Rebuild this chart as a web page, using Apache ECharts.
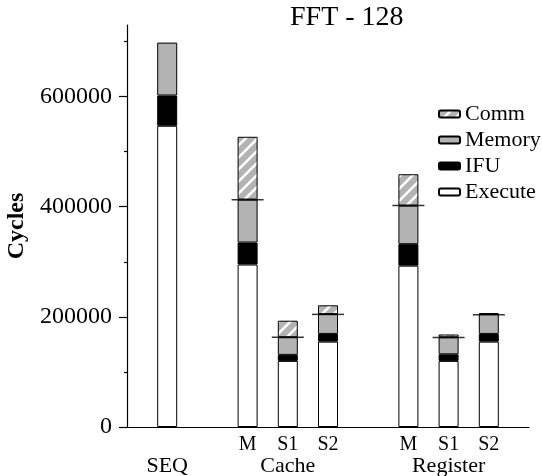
<!DOCTYPE html>
<html>
<head>
<meta charset="utf-8">
<script src="https://cdn.jsdelivr.net/npm/echarts@6/dist/echarts.min.js"></script>
<style>
  html, body { margin: 0; padding: 0; background: #fff; }
  #chart { width: 542px; height: 476px; }
</style>
</head>
<body>
<div id="chart"></div>
<script>
// slots on the x axis, empty ones give the gaps between groups
var slots = ['pad0', 'SEQ', 'gap1', 'Cache M', 'Cache S1', 'Cache S2', 'gap2', 'Register M', 'Register S1', 'Register S2', 'pad1']
var subLabels = ['', '', '', 'M', 'S1', 'S2', '', 'M', 'S1', 'S2', '']
var groupLabels = ['', 'SEQ', '', '', 'Cache', '', '', '', 'Register', '', '']

var execute = ['-', 547000, '-', 295000, 120000, 155000, '-', 293000, 120000, 155000, '-']
var ifu = ['-', 55000, '-', 40000, 11000, 14000, '-', 39000, 12000, 14000, '-']
var memory = ['-', 96000, '-', 78000, 32000, 36000, '-', 70000, 31000, 36000, '-']
var comm = ['-', '-', '-', 114000, 30000, 16000, '-', 57000, 5000, 2000, '-']
// short horizontal marks across some bars
var marks = ['-', '-', '-', 412500, 163000, 204500, '-', 402000, 162500, 204000, '-']

var yTicks = [0, 200000, 400000, 600000]
var yMinorTicks = [100000, 300000, 500000, 700000]

var font = "'Liberation Serif', 'Times New Roman', serif"
var gray = '#b3b3b3'

// hatch for Comm: gray with white "/" stripes
function hatch() {
  var c = document.createElement('canvas')
  c.width = 12
  c.height = 12
  var ctx = c.getContext('2d')
  ctx.fillStyle = gray
  ctx.fillRect(0, 0, 12, 12)
  ctx.strokeStyle = '#fff'
  ctx.lineWidth = 2.6
  ctx.beginPath()
  ctx.moveTo(-2, 14); ctx.lineTo(14, -2)
  ctx.moveTo(-2, 2); ctx.lineTo(2, -2)
  ctx.moveTo(10, 14); ctx.lineTo(14, 10)
  ctx.stroke()
  return c
}

var chart = echarts.init(document.getElementById('chart'))

function barSeries(name, data, color) {
  return {
    name: name,
    type: 'bar',
    stack: 'total',
    barWidth: 20,
    data: data,
    itemStyle: { color: color, borderColor: '#000', borderWidth: 1 },
    emphasis: { disabled: true }
  }
}

var option = {
  animation: false,
  title: {
    text: 'FFT - 128',
    left: 290,
    top: 4,
    padding: 0,
    textStyle: { fontFamily: font, fontSize: 28, fontWeight: 'normal', color: '#000' }
  },
  legend: {
    orient: 'vertical',
    left: 438,
    top: 103,
    padding: 0,
    itemWidth: 21,
    itemHeight: 7,
    itemGap: 4,
    data: ['Comm', 'Memory', 'IFU', 'Execute'],
    textStyle: { fontFamily: font, fontSize: 22, color: '#000' }
  },
  grid: { left: 127, right: 13, top: 25, bottom: 49, containLabel: false, outerBoundsMode: 'none' },
  xAxis: {
    type: 'category',
    data: slots,
    boundaryGap: false,
    axisLine: { lineStyle: { color: '#000', width: 1.2 } },
    axisTick: { show: false },
    axisLabel: {
      interval: 0,
      margin: 7,
      formatter: function (v, i) {
        var top = subLabels[i] || ' '
        var bottom = groupLabels[i]
        return bottom ? '{a|' + top + '}\n{b|' + bottom + '}' : '{a|' + top + '}'
      },
      rich: {
        a: { fontFamily: font, fontSize: 20, lineHeight: 21, color: '#000' },
        b: { fontFamily: font, fontSize: 22, lineHeight: 22, color: '#000' }
      }
    }
  },
  yAxis: [
    {
      type: 'value',
      min: 0,
      max: 730000,
      interval: 200000,
      name: 'Cycles',
      nameLocation: 'middle',
      nameGap: 96,
      nameTextStyle: { fontFamily: font, fontSize: 24, fontWeight: 'bold', color: '#000' },
      axisLine: { show: true, lineStyle: { color: '#000', width: 1.2 } },
      axisTick: { show: true, length: 8, customValues: yTicks, lineStyle: { color: '#000', width: 1.2 } },
      axisLabel: {
        margin: 15,
        customValues: yTicks,
        formatter: function (v) { return String(v) },
        fontFamily: font,
        fontSize: 24,
        color: '#000'
      },
      splitLine: { show: false }
    },
    {
      type: 'value',
      position: 'left',
      min: 0,
      max: 730000,
      interval: 100000,
      axisLine: { show: false },
      axisTick: { show: true, length: 3, customValues: yMinorTicks, lineStyle: { color: '#000', width: 1.2 } },
      axisLabel: { show: false },
      splitLine: { show: false }
    }
  ],
  series: [
    barSeries('Execute', execute, '#fff'),
    barSeries('IFU', ifu, '#000'),
    barSeries('Memory', memory, gray),
    barSeries('Comm', comm, { image: hatch(), repeat: 'repeat' }),
    {
      name: 'mark',
      type: 'scatter',
      symbol: 'rect',
      symbolSize: [32, 1.5],
      data: marks,
      itemStyle: { color: '#000' },
      z: 5,
      emphasis: { disabled: true }
    }
  ]
}

chart.setOption(option)
</script>
</body>
</html>
